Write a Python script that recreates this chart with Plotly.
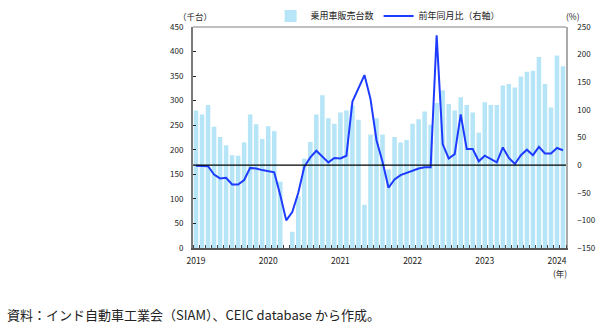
import plotly.graph_objects as go

months = [f"{y}-{m:02d}" for y in range(2019, 2025) for m in range(1, 13)][:62]

sales = [
    280, 272, 291, 247, 226, 209, 189, 188, 215, 272, 252, 222,
    248, 238, 135, 0, 33, 105, 182, 216, 272, 311, 264, 253,
    276, 280, 290, 261, 88, 231, 264, 231, 160, 226, 215, 220,
    253, 262, 278, 251, 295, 321, 293, 280, 307, 291, 276, 235,
    297, 291, 291, 331, 334, 327, 349, 359, 361, 389, 334, 286,
    392, 370,
]
yoy = [
    -1, -1, -2, -17, -24, -23, -35, -35, -27, -5, -6, -9,
    -11, -13, -54, -100, -85, -50, -3, 14, 26, 15, 5, 13,
    12, 17, 115, None, 163, 120, 45, 6, -41, -26, -18, -14,
    -9, -6, -4, -4, 235, 38, 12, 20, 92, 29, 29, 7,
    17, 11, 5, 32, 13, 2, 18, 28, 18, 33, 21, 21,
    31, 27,
]
year_labels = ["2019", "2020", "2021", "2022", "2023", "2024"]

x = list(range(len(months)))
year_pos = [i for i, m in enumerate(months) if m.endswith("-01")]

FONT = "Noto Sans CJK JP, Noto Sans, sans-serif"

fig = go.Figure()
fig.add_trace(go.Bar(
    x=x, y=sales, name="乗用車販売台数",
    marker=dict(color="#b5e5f6", line=dict(width=0)),
    yaxis="y",
))
fig.add_trace(go.Scatter(
    x=x, y=yoy, name="前年同月比（右軸）", mode="lines",
    line=dict(color="#1e3cff", width=2), connectgaps=True,
    yaxis="y2",
))

fig.update_layout(
    width=603, height=334,
    margin=dict(l=193, r=37, t=27, b=86, autoexpand=False),
    paper_bgcolor="white", plot_bgcolor="white",
    font=dict(family=FONT, size=8, color="#222"),
    bargap=0.25,
    showlegend=True,
    legend=dict(orientation="h", x=0.208, y=1.05, xanchor="left", yanchor="middle",
                font=dict(size=9, color="#222"), itemwidth=30,
                bgcolor="rgba(0,0,0,0)", tracegroupgap=0, traceorder="normal"),
    xaxis=dict(
        range=[-0.5, len(months) - 0.5],
        tickmode="array", tickvals=year_pos, ticktext=year_labels,
        ticks="", showgrid=False, zeroline=False,
        showline=True, linecolor="#555", linewidth=1.5,
        minor=dict(tickmode="linear", tick0=0.5, dtick=1, ticks="inside",
                   ticklen=3, tickcolor="#444", tickwidth=1, showgrid=False),
        tickfont=dict(size=8.5), ticklabelstandoff=4,
    ),
    yaxis=dict(
        range=[0, 450], dtick=50, tick0=0, ticks="inside", ticklen=3,
        tickcolor="#222", showgrid=False, zeroline=False,
        showline=True, linecolor="#7a7a7a", linewidth=2,
        tickfont=dict(size=8), ticklabelstandoff=6,
    ),
    yaxis2=dict(
        range=[-150, 250], dtick=50, tick0=0, overlaying="y", side="right",
        ticks="", showgrid=False, zeroline=False,
        showline=True, linecolor="#aaaaaa", linewidth=1.5,
        tickfont=dict(size=8), ticklabelstandoff=8,
    ),
    shapes=[
        dict(type="line", xref="paper", x0=0, x1=1, yref="paper", y0=1, y1=1,
             line=dict(color="#aaaaaa", width=1.5), layer="above"),
        dict(type="line", xref="paper", x0=0, x1=1, yref="y2", y0=0, y1=0,
             line=dict(color="black", width=1.2), layer="above"),
    ],
    annotations=[
        dict(text="（千台）", xref="paper", yref="paper", x=0.005, y=1.05,
             xanchor="center", yanchor="middle", showarrow=False, font=dict(size=8.5)),
        dict(text="(%)", xref="paper", yref="paper", x=1.02, y=1.05,
             xanchor="center", yanchor="middle", showarrow=False, font=dict(size=8.5)),
        dict(text="(年)", xref="paper", yref="paper", x=0.984, y=-0.113,
             xanchor="center", yanchor="middle", showarrow=False, font=dict(size=8.5)),
        dict(text="資料：インド自動車工業会（SIAM）、CEIC database から作成。",
             xref="paper", yref="paper", x=-0.504, y=-0.303,
             xanchor="left", yanchor="middle", showarrow=False,
             font=dict(size=13, color="#222")),
    ],
)

fig.write_html("out.html")
